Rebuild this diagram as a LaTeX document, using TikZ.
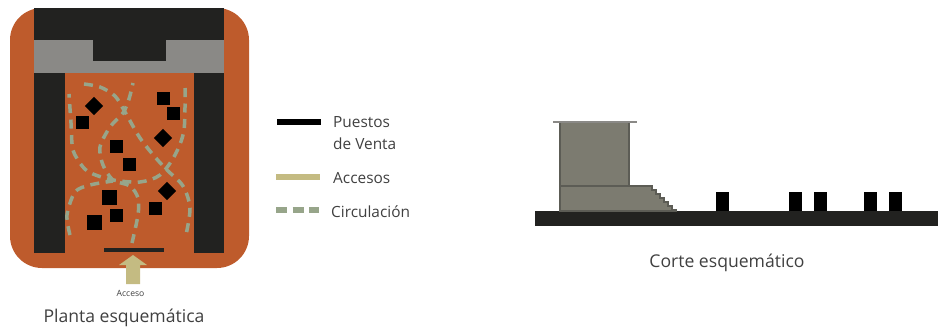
\documentclass[tikz,border=0pt]{standalone}
\usepackage{fontspec}
\setmainfont{Open Sans}
\definecolor{ladrillo}{HTML}{BE5B2C}
\definecolor{oscuro}{HTML}{222220}
\definecolor{gris}{HTML}{8A8986}
\definecolor{muro}{HTML}{7C7B70}
\definecolor{borde}{HTML}{5C5C55}
\definecolor{acceso}{HTML}{C4BB82}
\definecolor{circ}{HTML}{97A58A}
\definecolor{texto}{HTML}{404040}
\begin{document}
\begin{tikzpicture}[x=1pt, y=-1pt,
    puesto/.style={rectangle, fill=black, inner sep=0pt, minimum size=13pt},
    circula/.style={draw=circ, line width=3.5pt, dash pattern=on 9pt off 6.5pt},
    etiqueta/.style={text=texto, inner sep=0pt, font=\fontsize{15.4}{17}\selectfont},
    titulo/.style={text=texto, inner sep=0pt, font=\fontsize{17.6}{19}\selectfont}]
    \useasboundingbox (0,0) rectangle (938,327);

    % planta
    \fill[ladrillo, rounded corners=32pt] (10,8) rectangle (249,268);
    \fill[oscuro] (34,8) rectangle (224,40);
    \fill[gris] (34,40) rectangle (224,73);
    \fill[oscuro] (93,40) rectangle (166,61);
    \fill[oscuro] (34,73) rectangle (65,253);
    \fill[oscuro] (194,73) rectangle (224,253);
    \fill[oscuro] (104,248) rectangle (164,252);
    \fill[acceso] (133,255) -- (147,265) -- (140,265) -- (140,284) -- (126,284) -- (126,265) -- (119,265) -- cycle;

    % circulacion
    \draw[circula] plot[smooth] coordinates {(84,84) (100,87) (115,96) (125,112) (140,138) (155,157) (167,170) (183,186) (190,208) (186,235)};
    \draw[circula] plot[smooth] coordinates {(132,243) (138,215) (138,198) (130,186) (113,180) (103,165) (100,147) (110,127) (123,113) (129,99) (133,83)};
    \draw[circula] plot[smooth] coordinates {(185,88) (184,130) (175,155) (160,175) (140,182) (113,180) (93,174) (83,167) (73,150) (71,123) (69,94)};
    \draw[circula] plot[smooth] coordinates {(70,235) (67,215) (75,192) (90,185) (113,181)};

    % puestos
    \foreach \px/\py [count=\i] in {82/122, 163/98, 173/113, 116/146, 129/164, 116/215, 155/208}
        \node[puesto] (p\i) at (\px,\py) {};
    \node[puesto, minimum size=15pt] (p8) at (109,197) {};
    \node[puesto, minimum size=15pt] (p9) at (94,222) {};
    \foreach \px/\py [count=\i] in {94/106, 163/138, 167/191}
        \node[puesto, rotate=45] (d\i) at (\px,\py) {};

    \node[inner sep=0pt, text=texto, font=\fontsize{8.6}{9}\selectfont] (acc) at (130.5,293.5) {Acceso};
    \node[titulo, anchor=base] (planta) at (124,322) {Planta esquemática};

    % leyenda
    \coordinate (l1a) at (277,122); \coordinate (l1b) at (321,122);
    \coordinate (l2a) at (276,176.5); \coordinate (l2b) at (320,176.5);
    \coordinate (l3a) at (276,210); \coordinate (l3b) at (319,210);
    \draw[black, line width=5.5pt] (l1a) -- (l1b);
    \draw[acceso, line width=6pt] (l2a) -- (l2b);
    \draw[circ, line width=5.5pt, dash pattern=on 11pt off 5.5pt] (l3a) -- (l3b);
    \node[etiqueta, anchor=base west] (ley1) at (333,127) {Puestos};
    \node[etiqueta, anchor=base west] (ley1b) at (333,149) {de Venta};
    \node[etiqueta, anchor=base west] (ley2) at (333,183) {Accesos};
    \node[etiqueta, anchor=base west] (ley3) at (331,217) {Circulación};

    % corte
    \fill[oscuro] (535,211) rectangle (938,226);
    \draw[borde, fill=muro, line width=1.2pt] (560,122) rectangle (629,186);
    \draw[borde, fill=muro, line width=1.2pt] (560,211) -- (560,186) -- (652,186) -- (652,190) -- (656,190) -- (656,194) -- (660,194) -- (660,198) -- (664,198) -- (664,202) -- (668,202) -- (668,206) -- (672,206) -- (672,210) -- (676,210) -- (676,211) -- cycle;
    \draw[gris, line width=1.2pt] (553,122) -- (637,122);
    \foreach \cx [count=\i] in {716,789,814,864,889}
        \fill[black] (\cx,192) rectangle (\cx+13,211);
    \node[titulo, anchor=base] (corte) at (727,267) {Corte esquemático};
\end{tikzpicture}
\end{document}
